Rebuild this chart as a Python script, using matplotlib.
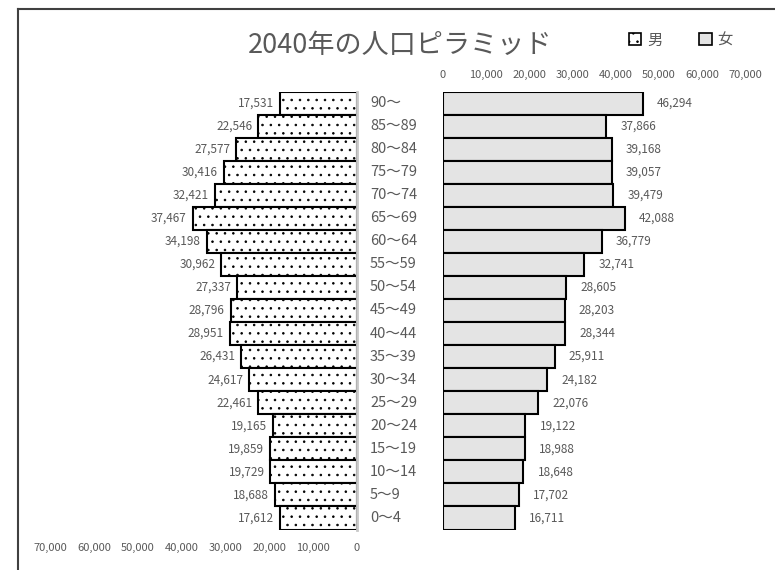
import matplotlib
matplotlib.use("Agg")
import matplotlib.pyplot as plt
from matplotlib.patches import Patch
from matplotlib.lines import Line2D
import matplotlib.transforms as mtrans

plt.rcParams['font.family'] = ['Noto Sans CJK JP', 'DejaVu Sans']
plt.rcParams['hatch.linewidth'] = 0.6

title = "2040年の人口ピラミッド"
ages = ['90～', '85～89', '80～84', '75～79', '70～74', '65～69', '60～64',
        '55～59', '50～54', '45～49', '40～44', '35～39', '30～34', '25～29',
        '20～24', '15～19', '10～14', '5～9', '0～4']
male = [17531, 22546, 27577, 30416, 32421, 37467, 34198, 30962, 27337, 28796,
        28951, 26431, 24617, 22461, 19165, 19859, 19729, 18688, 17612]
female = [46294, 37866, 39168, 39057, 39479, 42088, 36779, 32741, 28605, 28203,
          28344, 25911, 24182, 22076, 19122, 18988, 18648, 17702, 16711]
ticks = [0, 10000, 20000, 30000, 40000, 50000, 60000, 70000]
legend_labels = ['男', '女']

W, H = 775, 570
fig = plt.figure(figsize=(W / 100, H / 100), dpi=100)
txt = '#595959'

def box(l, r, t, b):
    return [l / W, 1 - b / H, (r - l) / W, (b - t) / H]

top_px = 91.5
bot_px = 529.5
axm = fig.add_axes(box(50, 357, top_px, bot_px))
axf = fig.add_axes(box(443, 745, top_px, bot_px))

y = list(range(len(ages)))

axm.barh(y, male, height=1.0, facecolor='white', edgecolor='black',
         hatch='..', linewidth=1.5)
axm.axvline(0, color='#c8c8c8', lw=2.0, zorder=5, clip_on=False)
axf.barh(y, female, height=1.0, facecolor='#e4e4e4', edgecolor='black',
         linewidth=1.5)

for ax in (axm, axf):
    ax.set_ylim(len(ages) - 0.5, -0.5)
    ax.set_xticks(ticks)
    ax.set_xticklabels([f"{t:,}" for t in ticks])
    ax.tick_params(length=0, labelsize=8, colors=txt)
    ax.set_yticks([])
    for s in ax.spines.values():
        s.set_visible(False)
    ax.set_facecolor('none')

axm.set_xlim(70000, 0)
axm.xaxis.tick_bottom()
axm.tick_params(axis='x', pad=10)
axf.set_xlim(0, 70000)
axf.xaxis.tick_top()
axf.tick_params(axis='x', pad=8)

off_m = mtrans.offset_copy(axm.transData, fig=fig, x=-6, y=0, units='dots')
for i, v in enumerate(male):
    axm.text(v, i, f"{v:,}", transform=off_m, ha='right', va='center',
             fontsize=8.5, color=txt)
off_f = mtrans.offset_copy(axf.transData, fig=fig, x=14, y=0, units='dots')
for i, v in enumerate(female):
    axf.text(v, i, f"{v:,}", transform=off_f, ha='left', va='center',
             fontsize=8.5, color=txt)

bt = mtrans.blended_transform_factory(fig.transFigure, axf.transData)
for i, a in enumerate(ages):
    axf.text(370 / W, i, a, transform=bt, ha='left', va='center',
             fontsize=10.5, color=txt, clip_on=False)

fig.text(400 / W, 1 - 45 / H, title, ha='center', va='center',
         fontsize=19.5, color=txt)

handles = [Patch(facecolor='white', edgecolor='black', hatch='..', linewidth=1.2),
           Patch(facecolor='#e4e4e4', edgecolor='black', linewidth=1.2)]
fig.legend(handles, legend_labels, loc='center', bbox_to_anchor=(681 / W, 1 - 40 / H),
           ncol=2, frameon=False, fontsize=11, handlelength=0.8, handleheight=0.8,
           handletextpad=0.4, columnspacing=2.4, labelcolor=txt)

fig.add_artist(Line2D([18 / W, 1], [1 - 9 / H, 1 - 9 / H], transform=fig.transFigure,
                      color='#404040', lw=1.5))
fig.add_artist(Line2D([18 / W, 18 / W], [1 - 9 / H, 0], transform=fig.transFigure,
                      color='#404040', lw=1.5))

fig.savefig('out.png', dpi=100, facecolor='white')
